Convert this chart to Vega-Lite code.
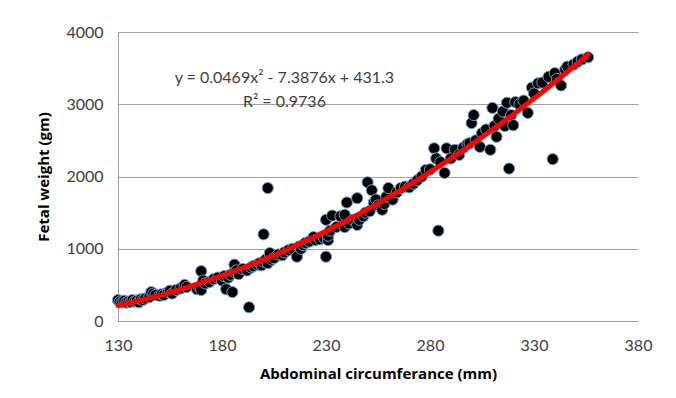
{
  "$schema": "https://vega.github.io/schema/vega-lite/v6.json",
  "width": 520,
  "height": 289,
  "autosize": {"type": "none"},
  "padding": {"left": 118, "top": 32, "right": 38, "bottom": 77},
  "background": "white",
  "config": {
    "view": {"stroke": null},
    "font": "Lato",
    "axis": {
      "labelFont": "Lato",
      "labelFontSize": 16,
      "labelColor": "#404040",
      "titleFont": "Open Sans",
      "titleFontSize": 15,
      "titleFontWeight": "bold",
      "titleColor": "#000000",
      "ticks": false,
      "domainColor": "#a0a0a0",
      "gridColor": "#a0a0a0"
    }
  },
  "data": {
    "values": [
      {"ac": 130, "fw": 290}, {"ac": 131, "fw": 270}, {"ac": 132, "fw": 260}, {"ac": 133, "fw": 280},
      {"ac": 134, "fw": 255}, {"ac": 135, "fw": 270}, {"ac": 136, "fw": 265}, {"ac": 137, "fw": 290},
      {"ac": 138, "fw": 270}, {"ac": 139, "fw": 280}, {"ac": 140, "fw": 260}, {"ac": 141, "fw": 300},
      {"ac": 142, "fw": 290}, {"ac": 143, "fw": 310}, {"ac": 145, "fw": 330}, {"ac": 146, "fw": 400},
      {"ac": 147, "fw": 380}, {"ac": 148, "fw": 360}, {"ac": 150, "fw": 350}, {"ac": 151, "fw": 370},
      {"ac": 152, "fw": 360}, {"ac": 154, "fw": 400}, {"ac": 155, "fw": 420}, {"ac": 156, "fw": 380},
      {"ac": 158, "fw": 430}, {"ac": 160, "fw": 450}, {"ac": 162, "fw": 500}, {"ac": 163, "fw": 470},
      {"ac": 168, "fw": 440}, {"ac": 169, "fw": 470}, {"ac": 170, "fw": 430}, {"ac": 170, "fw": 690},
      {"ac": 171, "fw": 560}, {"ac": 172, "fw": 520}, {"ac": 174, "fw": 540}, {"ac": 176, "fw": 580},
      {"ac": 178, "fw": 600}, {"ac": 180, "fw": 560}, {"ac": 181, "fw": 620}, {"ac": 182, "fw": 440},
      {"ac": 183, "fw": 600}, {"ac": 184, "fw": 640}, {"ac": 185, "fw": 400}, {"ac": 186, "fw": 780},
      {"ac": 186, "fw": 680}, {"ac": 187, "fw": 700}, {"ac": 188, "fw": 650}, {"ac": 190, "fw": 720},
      {"ac": 192, "fw": 700}, {"ac": 193, "fw": 190}, {"ac": 194, "fw": 740}, {"ac": 195, "fw": 760},
      {"ac": 197, "fw": 780}, {"ac": 198, "fw": 800}, {"ac": 199, "fw": 770}, {"ac": 200, "fw": 1200},
      {"ac": 200, "fw": 820}, {"ac": 201, "fw": 850}, {"ac": 202, "fw": 1840}, {"ac": 202, "fw": 800},
      {"ac": 203, "fw": 900}, {"ac": 203, "fw": 940}, {"ac": 204, "fw": 850}, {"ac": 205, "fw": 870},
      {"ac": 207, "fw": 920}, {"ac": 209, "fw": 910}, {"ac": 210, "fw": 950}, {"ac": 212, "fw": 980},
      {"ac": 214, "fw": 1000}, {"ac": 216, "fw": 890}, {"ac": 217, "fw": 1030}, {"ac": 218, "fw": 1000},
      {"ac": 219, "fw": 1050}, {"ac": 220, "fw": 1080}, {"ac": 222, "fw": 1100}, {"ac": 224, "fw": 1160},
      {"ac": 225, "fw": 1120}, {"ac": 227, "fw": 1130}, {"ac": 229, "fw": 1150}, {"ac": 230, "fw": 1400},
      {"ac": 230, "fw": 890}, {"ac": 231, "fw": 1120}, {"ac": 231, "fw": 1180}, {"ac": 232, "fw": 1250},
      {"ac": 233, "fw": 1460}, {"ac": 235, "fw": 1300}, {"ac": 237, "fw": 1450}, {"ac": 239, "fw": 1470},
      {"ac": 239, "fw": 1300}, {"ac": 240, "fw": 1640}, {"ac": 241, "fw": 1350}, {"ac": 243, "fw": 1400},
      {"ac": 245, "fw": 1700}, {"ac": 245, "fw": 1330}, {"ac": 246, "fw": 1400}, {"ac": 248, "fw": 1450},
      {"ac": 249, "fw": 1500}, {"ac": 250, "fw": 1920}, {"ac": 251, "fw": 1520}, {"ac": 252, "fw": 1810},
      {"ac": 253, "fw": 1640}, {"ac": 254, "fw": 1680}, {"ac": 255, "fw": 1600}, {"ac": 257, "fw": 1540},
      {"ac": 258, "fw": 1620}, {"ac": 259, "fw": 1720}, {"ac": 260, "fw": 1840}, {"ac": 262, "fw": 1680},
      {"ac": 264, "fw": 1780}, {"ac": 266, "fw": 1840}, {"ac": 268, "fw": 1860}, {"ac": 270, "fw": 1850},
      {"ac": 272, "fw": 1900}, {"ac": 274, "fw": 1950}, {"ac": 276, "fw": 2000}, {"ac": 278, "fw": 2090},
      {"ac": 280, "fw": 2100}, {"ac": 282, "fw": 2390}, {"ac": 283, "fw": 2250}, {"ac": 284, "fw": 1250},
      {"ac": 285, "fw": 2200}, {"ac": 287, "fw": 2050}, {"ac": 288, "fw": 2390}, {"ac": 290, "fw": 2250},
      {"ac": 292, "fw": 2370}, {"ac": 294, "fw": 2300}, {"ac": 296, "fw": 2400}, {"ac": 298, "fw": 2450},
      {"ac": 299, "fw": 2460}, {"ac": 300, "fw": 2740}, {"ac": 301, "fw": 2850}, {"ac": 302, "fw": 2500},
      {"ac": 304, "fw": 2410}, {"ac": 305, "fw": 2600}, {"ac": 307, "fw": 2650}, {"ac": 309, "fw": 2370},
      {"ac": 310, "fw": 2950}, {"ac": 311, "fw": 2700}, {"ac": 312, "fw": 2550}, {"ac": 313, "fw": 2800},
      {"ac": 315, "fw": 2900}, {"ac": 316, "fw": 2700}, {"ac": 317, "fw": 3020}, {"ac": 318, "fw": 2110},
      {"ac": 319, "fw": 2850}, {"ac": 320, "fw": 2710}, {"ac": 321, "fw": 3030}, {"ac": 323, "fw": 3000},
      {"ac": 325, "fw": 3050}, {"ac": 327, "fw": 2880}, {"ac": 329, "fw": 3230}, {"ac": 330, "fw": 3150},
      {"ac": 332, "fw": 3290}, {"ac": 334, "fw": 3300}, {"ac": 337, "fw": 3380}, {"ac": 339, "fw": 2240},
      {"ac": 340, "fw": 3430}, {"ac": 341, "fw": 3350}, {"ac": 343, "fw": 3260}, {"ac": 345, "fw": 3480},
      {"ac": 346, "fw": 3520}, {"ac": 349, "fw": 3550}, {"ac": 351, "fw": 3590}, {"ac": 353, "fw": 3620},
      {"ac": 356, "fw": 3650}
    ]
  },
  "layer": [
    {
      "mark": {"type": "point", "filled": true, "shape": "circle", "size": 125, "fill": "#000000", "stroke": "#6b9fd4", "strokeWidth": 1, "opacity": 1},
      "encoding": {
        "x": {"field": "ac", "type": "quantitative",
              "scale": {"domain": [130, 380], "nice": false, "zero": false},
              "axis": {"title": "Abdominal circumferance (mm)", "format": "d", "values": [130, 180, 230, 280, 330, 380], "grid": false, "labelPadding": 16, "titlePadding": 13, "labelFlush": false}},
        "y": {"field": "fw", "type": "quantitative",
              "scale": {"domain": [0, 4000], "nice": false},
              "axis": {"title": "Fetal weight (gm)", "format": "d", "values": [0, 500, 1000, 1500, 2000, 2500, 3000, 3500, 4000], "grid": true, "labelPadding": 15, "titlePadding": 14, "labelFlush": false}}
      }
    },
    {
      "transform": [{"regression": "fw", "on": "ac", "method": "poly", "order": 2, "extent": [130, 356]}],
      "mark": {"type": "line", "color": "#ff0000", "strokeWidth": 5, "strokeCap": "round"},
      "encoding": {
        "x": {"field": "ac", "type": "quantitative"},
        "y": {"field": "fw", "type": "quantitative"}
      }
    },
    {
      "data": {"values": [{"label": "y = 0.0469x² - 7.3876x + 431.3"}]},
      "mark": {"type": "text", "fontSize": 16, "color": "#404040", "align": "center", "baseline": "middle", "font": "Lato"},
      "encoding": {
        "x": {"datum": 210},
        "y": {"datum": 3363},
        "text": {"field": "label"}
      }
    },
    {
      "data": {"values": [{"label": "R² = 0.9736"}]},
      "mark": {"type": "text", "fontSize": 16, "color": "#404040", "align": "center", "baseline": "middle", "font": "Lato"},
      "encoding": {
        "x": {"datum": 210},
        "y": {"datum": 3031},
        "text": {"field": "label"}
      }
    }
  ]
}
